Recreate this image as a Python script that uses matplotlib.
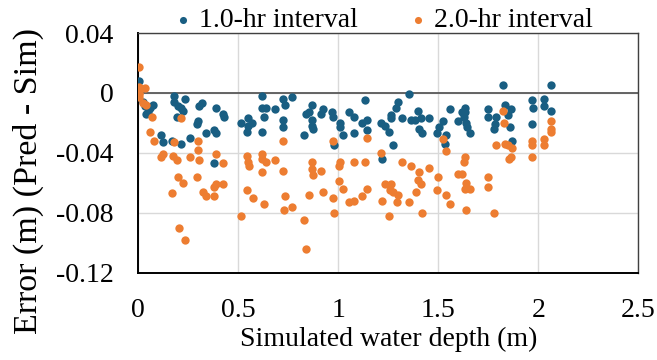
import matplotlib
matplotlib.use("Agg")
import matplotlib.pyplot as plt

# ---- data ----
blue_x = [0.003, 0.025, 0.033, 0.058, 0.050, 0.038, 0.075, 0.112, 0.125, 0.170,
          0.179, 0.179, 0.192, 0.200, 0.212, 0.222, 0.214, 0.232, 0.259, 0.292,
          0.300, 0.303, 0.317, 0.337, 0.378, 0.387, 0.387, 0.425, 0.428, 0.380,
          0.512, 0.547, 0.547, 0.570, 0.542, 0.617, 0.617, 0.637, 0.630, 0.617,
          0.684, 0.725, 0.733, 0.767, 0.725, 0.725, 0.830, 0.867, 0.854, 0.837,
          0.870, 0.867, 0.875, 0.925, 0.914, 0.970, 0.975, 1.009, 1.009, 1.025,
          0.980, 1.055, 1.079, 1.079, 1.134, 1.117, 1.145, 1.145, 1.212, 1.234,
          1.254, 1.264, 1.264, 1.272, 1.218, 1.300, 1.288, 1.354, 1.320, 1.362,
          1.383, 1.397, 1.414, 1.405, 1.417, 1.455, 1.495, 1.505, 1.525, 1.538,
          1.533, 1.560, 1.597, 1.617, 1.634, 1.634, 1.628, 1.637, 1.642, 1.659,
          1.750, 1.747, 1.789, 1.783, 1.777, 1.822, 1.834, 1.864, 1.851, 1.859,
          1.870, 1.970, 1.975, 1.970, 2.029, 2.030, 2.064, 2.064]
blue_y = [0.008, -0.006, -0.009, -0.010, -0.013, -0.014, -0.008, -0.028, -0.033, -0.032,
          -0.002, -0.006, -0.016, -0.009, -0.010, -0.012, -0.034, -0.004, -0.030, -0.021,
          -0.019, -0.009, -0.007, -0.027, -0.025, -0.027, -0.010, -0.014, -0.016, -0.047,
          -0.020, -0.017, -0.022, -0.020, -0.026, -0.002, -0.010, -0.010, -0.016, -0.026,
          -0.011, -0.004, -0.008, -0.003, -0.018, -0.023, -0.028, -0.008, -0.013, -0.014,
          -0.018, -0.022, -0.024, -0.011, -0.014, -0.013, -0.016, -0.020, -0.023, -0.028,
          -0.035, -0.013, -0.016, -0.027, -0.005, -0.020, -0.018, -0.025, -0.020, -0.022,
          -0.026, -0.015, -0.017, -0.035, -0.044, -0.006, -0.010, -0.001, -0.017, -0.018,
          -0.018, -0.012, -0.017, -0.024, -0.027, -0.017, -0.027, -0.023, -0.019, -0.028,
          -0.034, -0.011, -0.019, -0.013, -0.010, -0.013, -0.016, -0.020, -0.023, -0.027,
          -0.011, -0.016, -0.016, -0.021, -0.024, 0.005, -0.008, -0.011, -0.015, -0.023,
          -0.032, -0.005, -0.010, -0.021, -0.004, -0.009, -0.012, 0.005]

orange_x = [0.003, 0.002, 0.001, 0.003, 0.002, 0.004, 0.034, 0.022, 0.038, 0.070,
            0.214, 0.059, 0.079, 0.179, 0.300, 0.300, 0.125, 0.112, 0.175, 0.192,
            0.259, 0.303, 0.387, 0.425, 0.200, 0.222, 0.292, 0.170, 0.322, 0.338,
            0.378, 0.388, 0.380, 0.425, 0.205, 0.234, 0.512, 0.725, 0.972, 0.542,
            0.547, 0.553, 0.617, 0.620, 0.637, 0.617, 0.684, 0.725, 0.867, 0.867,
            0.875, 0.912, 1.009, 1.005, 1.005, 1.025, 0.542, 0.575, 0.630, 0.734,
            0.728, 0.767, 0.855, 0.925, 0.975, 0.978, 0.830, 0.837, 1.145, 1.212,
            1.525, 1.538, 1.079, 1.134, 1.055, 1.079, 1.117, 1.145, 1.234, 1.264,
            1.259, 1.275, 1.300, 1.218, 1.292, 1.254, 1.320, 1.362, 1.405, 1.397,
            1.414, 1.455, 1.389, 1.354, 1.417, 1.500, 1.495, 1.538, 1.560, 1.824,
            1.829, 1.787, 1.834, 1.850, 1.867, 1.862, 1.855, 1.970, 1.970, 1.970,
            2.029, 2.029, 2.064, 2.064, 2.064, 1.634, 1.628, 1.597, 1.617, 1.637,
            1.634, 1.659, 1.639, 1.747, 1.750, 1.777]
orange_y = [0.017, 0.004, 0.002, 0.000, -0.001, -0.003, 0.003, -0.007, -0.008, -0.016,
            -0.017, -0.026, -0.032, -0.033, -0.032, -0.038, -0.041, -0.043, -0.042, -0.045,
            -0.043, -0.045, -0.041, -0.047, -0.056, -0.060, -0.056, -0.067, -0.066, -0.069,
            -0.063, -0.061, -0.069, -0.061, -0.090, -0.098, -0.082, -0.032, -0.032, -0.042,
            -0.046, -0.049, -0.041, -0.044, -0.046, -0.053, -0.045, -0.052, -0.046, -0.051,
            -0.055, -0.052, -0.046, -0.049, -0.059, -0.064, -0.065, -0.070, -0.074, -0.069,
            -0.078, -0.076, -0.068, -0.066, -0.070, -0.080, -0.085, -0.104, -0.030, -0.040,
            -0.031, -0.039, -0.046, -0.046, -0.073, -0.072, -0.069, -0.064, -0.061, -0.061,
            -0.065, -0.066, -0.068, -0.072, -0.073, -0.082, -0.046, -0.049, -0.053, -0.058,
            -0.061, -0.050, -0.066, -0.073, -0.080, -0.056, -0.065, -0.068, -0.074, -0.012,
            -0.020, -0.035, -0.034, -0.035, -0.037, -0.043, -0.044, -0.032, -0.035, -0.043,
            -0.031, -0.035, -0.019, -0.024, -0.026, -0.043, -0.046, -0.054, -0.054, -0.060,
            -0.064, -0.064, -0.078, -0.056, -0.063, -0.080]

series_labels = ["1.0-hr interval", "2.0-hr interval"]
x_ticks = [0, 0.5, 1, 1.5, 2, 2.5]
x_tick_labels = ["0", "0.5", "1", "1.5", "2", "2.5"]
y_ticks = [-0.12, -0.08, -0.04, 0, 0.04]
y_tick_labels = ["-0.12", "-0.08", "-0.04", "0", "0.04"]

# ---- plot ----
plt.rcParams['font.family'] = ['Liberation Serif', 'DejaVu Serif']
blue = '#195e82'
orange = '#ed7d31'

fig = plt.figure(figsize=(6.57, 3.6), dpi=100)
ax = fig.add_axes([0.2105, 0.2428, 0.761, 0.6655])

ax.scatter(blue_x, blue_y, s=36, color=blue, linewidths=0, zorder=3, label=series_labels[0])
ax.scatter(orange_x, orange_y, s=36, color=orange, linewidths=0, zorder=4, label=series_labels[1])

ax.set_xlim(0, 2.5)
ax.set_ylim(-0.12, 0.04)
ax.set_xticks(x_ticks)
ax.set_xticklabels(x_tick_labels)
ax.set_yticks(y_ticks)
ax.set_yticklabels(y_tick_labels)
ax.tick_params(axis='both', length=0, labelsize=20)
ax.tick_params(axis='y', pad=18)
ax.tick_params(axis='x', pad=18)

ax.grid(True, color='#d9d9d9', linewidth=1.0, zorder=0)
ax.set_axisbelow(True)
ax.axhline(0, color='#595959', linewidth=1.3, zorder=2)

for side in ['top', 'right']:
    ax.spines[side].set_color('#404040')
    ax.spines[side].set_linewidth(1.0)
for side in ['left', 'bottom']:
    ax.spines[side].set_color('black')
    ax.spines[side].set_linewidth(1.4)

ax.set_xlabel("Simulated water depth (m)", fontsize=20, labelpad=3)
ax.set_ylabel("Error (m) (Pred - Sim)", fontsize=24.5, va='center', ha='center')
ax.yaxis.set_label_coords(-0.2206, 0.382)

fig.legend(loc='center', bbox_to_anchor=(0.5835, 0.944), ncol=2, frameon=False,
           fontsize=20, handlelength=0.6, handletextpad=0.28, columnspacing=1.86,
           markerscale=0.85, borderpad=0)

fig.savefig("out.png", dpi=100)
